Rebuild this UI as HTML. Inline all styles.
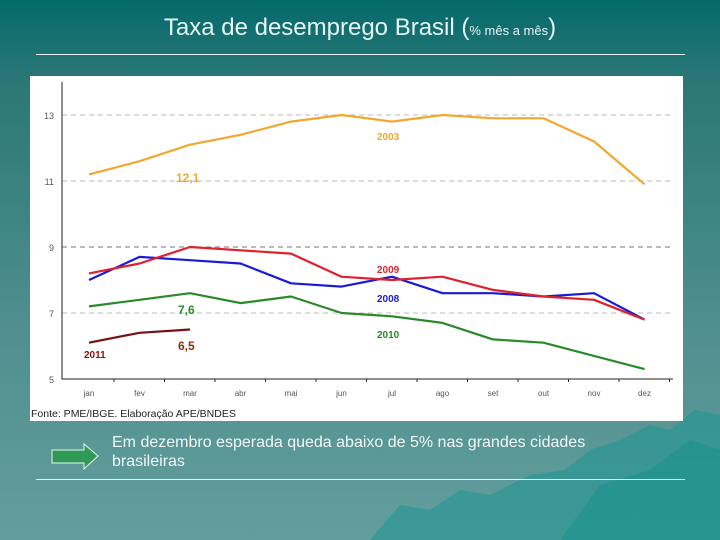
<!DOCTYPE html>
<html><head><meta charset="utf-8"><style>
html,body{margin:0;padding:0}
body{width:720px;height:540px;overflow:hidden;position:relative;font-family:"Liberation Sans",sans-serif;
background:linear-gradient(180deg,#046a6b 0%,#2b7776 15%,#4f8f8f 60%,#629e9d 100%);}
.title{position:absolute;left:0;width:720px;top:14px;text-align:center;color:#e6f4f3;font-size:24px;}
.title small{font-size:13px}
.hr{position:absolute;left:36px;width:649px;height:1px;background:#e8f2f2}
.chart{position:absolute;left:30px;top:76px;width:653px;height:345px;background:#fff}
.note{position:absolute;left:112px;top:433px;color:#f2f8f8;font-size:16px;line-height:19px;width:485px}
</style></head><body>
<svg style="position:absolute;left:0;top:0" width="720" height="540">
<polygon points="370,540 400,505 430,510 460,490 490,495 530,475 565,470 590,450 620,440 650,425 670,430 695,410 720,415 720,540" fill="#1e9592" opacity="0.55"/>
<polygon points="560,540 600,485 650,470 690,440 720,450 720,540" fill="#12908c" opacity="0.45"/>
</svg>
<div class="title">Taxa de desemprego Brasil (<small>% mês a mês</small>)</div>
<div class="hr" style="top:54px"></div>
<div class="chart">
<svg id="c" width="653" height="345"></svg>
</div>
<svg style="position:absolute;left:50px;top:442px" width="52" height="30">
<polygon points="2,8 34,8 34,2 48,14 34,27 34,21 2,21" fill="#2f9a55" stroke="#e8f5ef" stroke-width="1"/>
</svg>
<div class="note">Em dezembro esperada queda abaixo de 5% nas grandes cidades brasileiras</div>
<div class="hr" style="top:479px"></div>
<script>
const months=["jan","fev","mar","abr","mai","jun","jul","ago","set","out","nov","dez"];
const yTicks=[5,7,9,11,13];
const s2003=[11.2,11.6,12.1,12.4,12.8,13.0,12.8,13.0,12.9,12.9,12.2,10.9];
const s2009=[8.2,8.5,9.0,8.9,8.8,8.1,8.0,8.1,7.7,7.5,7.4,6.8];
const s2008=[8.0,8.7,8.6,8.5,7.9,7.8,8.1,7.6,7.6,7.5,7.6,6.8];
const s2010=[7.2,7.4,7.6,7.3,7.5,7.0,6.9,6.7,6.2,6.1,5.7,5.3];
const s2011=[6.1,6.4,6.5];
const svg=document.getElementById('c');const NS="http://www.w3.org/2000/svg";
const x=i=>59+i*50.5;const y=v=>303-(v-5)*33;
function mk(t,a,p){const e=document.createElementNS(NS,t);for(const k in a)e.setAttribute(k,a[k]);(p||svg).appendChild(e);return e;}
yTicks.forEach(v=>{
 if(v>5){const g=mk('line',{x1:32,x2:643,y1:y(v),y2:y(v),stroke:v==9?'#777':'#bbb','stroke-dasharray':'5,4','stroke-width':1});
 
 }
 const t=mk('text',{x:24,y:y(v)+4,'text-anchor':'end','font-size':9,fill:'#555'});t.textContent=v;
 
 
});
const ax=mk('path',{d:`M32,6 V${y(5)} H643`,stroke:'#222',fill:'none','stroke-width':1});


months.forEach((m,i)=>{
 mk('line',{x1:x(i)+25,x2:x(i)+25,y1:y(5),y2:y(5)+3,stroke:'#222'});
 const t=mk('text',{x:x(i),y:y(5)+17,'text-anchor':'middle','font-size':8,fill:'#555'});t.textContent=m;
 
 
});
function line(d,c,n){const p=mk('polyline',{points:d.map((v,i)=>x(i)+','+y(v)).join(' '),fill:'none',stroke:c,'stroke-width':2.2,'stroke-linejoin':'round'});
 
 }
line(s2003,'#f0a830','line-2003');line(s2010,'#2a8a2a','line-2010');line(s2008,'#1a1ad8','line-2008');line(s2009,'#e0202a','line-2009');line(s2011,'#7a1010','line-2011');
function lab(tx,lx,ly,c,fs,n){const t=mk('text',{x:lx,y:ly,'font-size':fs,'font-weight':'bold',fill:c});t.textContent=tx;
 
 }
lab('2003',347,64,'#f0a830',10,'label-2003');lab('12,1',146,106,'#f0a830',12,'label-12-1');
lab('2009',347,197,'#e0202a',10,'label-2009');lab('2008',347,226,'#1a1ad8',10,'label-2008');
lab('2010',347,262,'#2a8a2a',10,'label-2010');lab('7,6',148,238,'#2a8a2a',12,'label-7-6');
lab('6,5',148,274,'#8a3010',12,'label-6-5');lab('2011',54,282,'#8a1010',10,'label-2011');
const f=mk('text',{x:1,y:341,'font-size':10.5,fill:'#222'});f.textContent='Fonte: PME/IBGE. Elaboração APE/BNDES';


</script>
</body></html>
